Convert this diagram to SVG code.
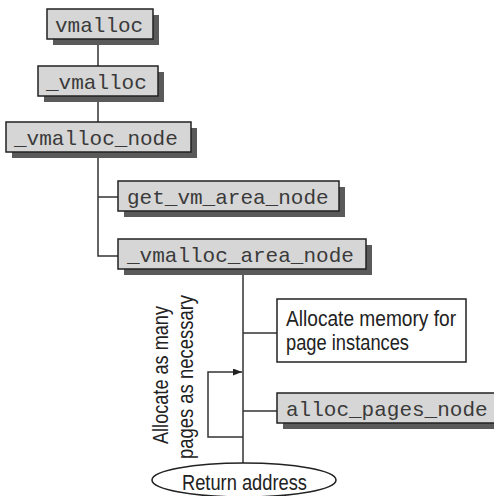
<svg xmlns="http://www.w3.org/2000/svg" width="494" height="496" viewBox="0 0 494 496">
<style>
.box{fill:#d6d6d6;stroke:#222;stroke-width:1.5}
.shadow{fill:#5a5a5a}
.wbox{fill:#fff;stroke:#222;stroke-width:1.5}
.mono{font-family:"Liberation Mono","Courier New",monospace;font-size:21px;fill:#3a3a3a}
.sans{font-family:"Liberation Sans",Arial,sans-serif;font-size:22px;fill:#222}
.line{fill:none;stroke:#333;stroke-width:1.5}
</style>
<defs>
<marker id="arr" markerWidth="9" markerHeight="7" refX="9" refY="3.5" orient="auto" markerUnits="userSpaceOnUse">
<path d="M0,0 L9,3.5 L0,7 Z" fill="#222"/>
</marker>
</defs>
<rect width="494" height="496" fill="#fff"/>
<g id="connectors">
<path class="line" d="M98,39 V66 M98,96 V122 M98,152 V256 H118 M98,197 H118"/>
<path class="line" d="M243,269 V463 M243,333 H277 M243,411 H277"/>
<path class="line" d="M243,437 H208 V372 H242" marker-end="url(#arr)"/>
</g>
<g id="vmalloc">
<rect class="shadow" x="53" y="15" width="106" height="30"/>
<rect class="box" x="47" y="9" width="106" height="30"/>
<text class="mono" x="55" y="32">vmalloc</text>
</g>
<g id="_vmalloc">
<rect class="shadow" x="44" y="72" width="120" height="30"/>
<rect class="box" x="38" y="66" width="120" height="30"/>
<text class="mono" x="46" y="89">_vmalloc</text>
</g>
<g id="_vmalloc_node">
<rect class="shadow" x="12" y="128" width="185" height="30"/>
<rect class="box" x="6" y="122" width="185" height="30"/>
<text class="mono" x="14" y="145">_vmalloc_node</text>
</g>
<g id="get_vm_area_node">
<rect class="shadow" x="124" y="187" width="221" height="30"/>
<rect class="box" x="118" y="181" width="221" height="30"/>
<text class="mono" x="127" y="204">get_vm_area_node</text>
</g>
<g id="_vmalloc_area_node">
<rect class="shadow" x="124" y="245" width="248" height="30"/>
<rect class="box" x="118" y="239" width="248" height="30"/>
<text class="mono" x="127" y="262">_vmalloc_area_node</text>
</g>
<g id="allocate_memory">
<rect class="wbox" x="277" y="299" width="189" height="63"/>
<text class="sans" x="286" y="326" textLength="170" lengthAdjust="spacingAndGlyphs">Allocate memory for</text>
<text class="sans" x="286" y="350" textLength="123" lengthAdjust="spacingAndGlyphs">page instances</text>
</g>
<g id="alloc_pages_node">
<rect class="shadow" x="283" y="399" width="230" height="30"/>
<rect class="box" x="277" y="393" width="230" height="30"/>
<text class="mono" x="286" y="416">alloc_pages_node</text>
</g>
<g id="loop_label">
<text class="sans" transform="translate(168,444) rotate(-90)" textLength="138" lengthAdjust="spacingAndGlyphs">Allocate as many</text>
<text class="sans" transform="translate(193,459) rotate(-90)" textLength="164" lengthAdjust="spacingAndGlyphs">pages as necessary</text>
</g>
<g id="return_address">
<ellipse cx="244" cy="480" rx="92" ry="17" fill="#fff" stroke="#222" stroke-width="1.5"/>
<text class="sans" x="182" y="490" textLength="125" lengthAdjust="spacingAndGlyphs">Return address</text>
</g>
</svg>
